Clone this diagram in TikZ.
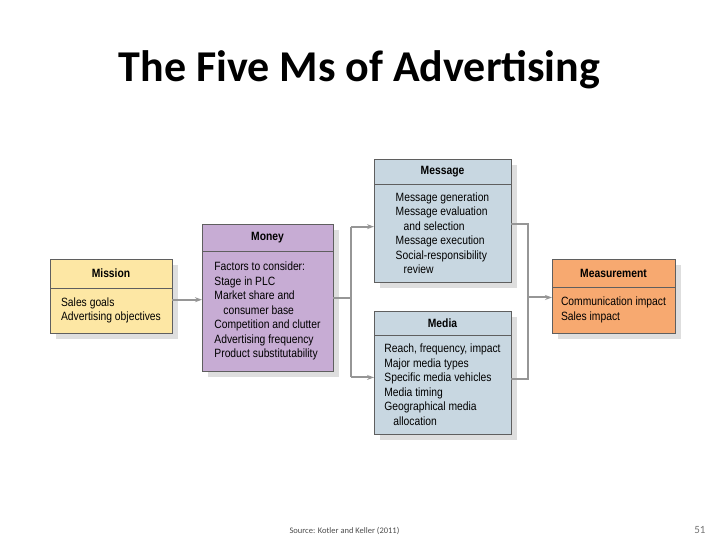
\documentclass[tikz,border=0pt]{standalone}
\usepackage{fontspec}
\setmainfont[FakeStretch=0.86]{Liberation Sans}
\newfontfamily\slidefont{Carlito}
\usetikzlibrary{positioning,calc,shadows,arrows.meta}
\definecolor{missionfill}{RGB}{253,231,164}
\definecolor{moneyfill}{RGB}{199,172,212}
\definecolor{mfill}{RGB}{200,215,225}
\definecolor{measurefill}{RGB}{247,169,112}
\definecolor{boxline}{RGB}{95,95,95}
\definecolor{linkgray}{RGB}{150,150,150}
\definecolor{shadowgray}{RGB}{222,222,222}

\begin{document}
\begin{tikzpicture}[x=1pt, y=-1pt, font=\fontsize{12}{14.5}\selectfont,
    boxshadow/.style={drop shadow={shadow xshift=6pt, shadow yshift=-6pt, fill=shadowgray, opacity=1}},
    head/.style={draw=boxline, line width=0.9pt, anchor=north west, inner sep=0pt, outer sep=0pt,
      font=\fontsize{12}{14.5}\selectfont\bfseries, boxshadow},
    body/.style={draw=boxline, line width=0.9pt, inner sep=0pt, outer sep=0pt,
      align=left, boxshadow},
    link/.style={draw=linkgray, line width=2pt},
    tip/.style={-{Stealth[length=7pt, width=5pt]}}]
  \useasboundingbox (0,0) rectangle (720,540);

  % title and footer
  \node[anchor=base, font=\slidefont\fontsize{44}{48}\selectfont\bfseries] (title) at (359.5,82)
    {The Five Ms of Advertising};
  \node[anchor=base west, font=\slidefont\fontsize{8.5}{10}\selectfont, text=black!70] (source) at (286,533)
    {Source: Kotler and Keller (2011)};
  \node[anchor=base east, font=\slidefont\fontsize{11}{13}\selectfont, text=black!55] (page) at (709,533) {51};

  % panels
  \node[head, fill=missionfill, minimum width=122pt, minimum height=29pt] (mission) at (50,259) {Mission};
  \node[body, fill=missionfill, below=0pt of mission, minimum width=122pt, minimum height=45pt] (missionbody)
    {Sales goals\\Advertising objectives};

  \node[head, fill=moneyfill, minimum width=131pt, minimum height=27pt] (money) at (202,224) {Money};
  \node[body, fill=moneyfill, below=0pt of money, minimum width=131pt, minimum height=120pt] (moneybody)
    {Factors to consider:\\Stage in PLC\\Market share and\\\hspace*{9pt}consumer base\\
     Competition and clutter\\Advertising frequency\\Product substitutability};

  \node[head, fill=mfill, minimum width=137pt, minimum height=25pt] (message) at (374,159) {Message};
  \node[body, fill=mfill, below=0pt of message, minimum width=137pt, minimum height=98pt] (messagebody)
    {Message generation\\Message evaluation\\\hspace*{8pt}and selection\\Message execution\\
     Social-responsibility\\\hspace*{8pt}review};

  \node[head, fill=mfill, minimum width=137pt, minimum height=24pt] (media) at (374,311) {Media};
  \node[body, fill=mfill, below=0pt of media, minimum width=137pt, minimum height=99pt] (mediabody)
    {Reach, frequency, impact\\Major media types\\Specific media vehicles\\Media timing\\
     Geographical media\\\hspace*{9pt}allocation};

  \node[head, fill=measurefill, minimum width=123pt, minimum height=28pt] (measure) at (552,259) {Measurement};
  \node[body, fill=measurefill, below=0pt of measure, minimum width=123pt, minimum height=46pt] (measurebody)
    {Communication impact\\Sales impact};

  % ports
  \coordinate (missionport) at ($(mission.north east)!0.55!(missionbody.south east)$);
  \coordinate (moneyport) at ($(money.north east)!0.5!(moneybody.south east)$);
  \coordinate (messagein) at ($(message.north west)!0.55!(messagebody.south west)$);
  \coordinate (messageout) at ($(message.north east)!0.53!(messagebody.south east)$);
  \coordinate (mediain) at ($(media.north west)!0.54!(mediabody.south west)$);
  \coordinate (mediaout) at ($(media.north east)!0.555!(mediabody.south east)$);
  \coordinate (measurein) at ($(measure.north west)!0.52!(measurebody.south west)$);
  \coordinate (split) at ($(moneyport)+(18,0)$);
  \coordinate (merge) at ($(messageout)+(17,0)$);

  % connectors
  \draw[link, tip] (missionport) -- (missionport -| moneybody.west);
  \draw[link] (moneyport) -- (split);
  \draw[link] (split |- messagein) -- (split |- mediain);
  \draw[link, tip] (split |- messagein) -- (messagein);
  \draw[link, tip] (split |- mediain) -- (mediain);
  \draw[link] (messageout) -- (merge) -- (merge |- mediaout) -- (mediaout);
  \draw[link, tip] (merge |- measurein) -- (measurein);
\end{tikzpicture}
\end{document}
